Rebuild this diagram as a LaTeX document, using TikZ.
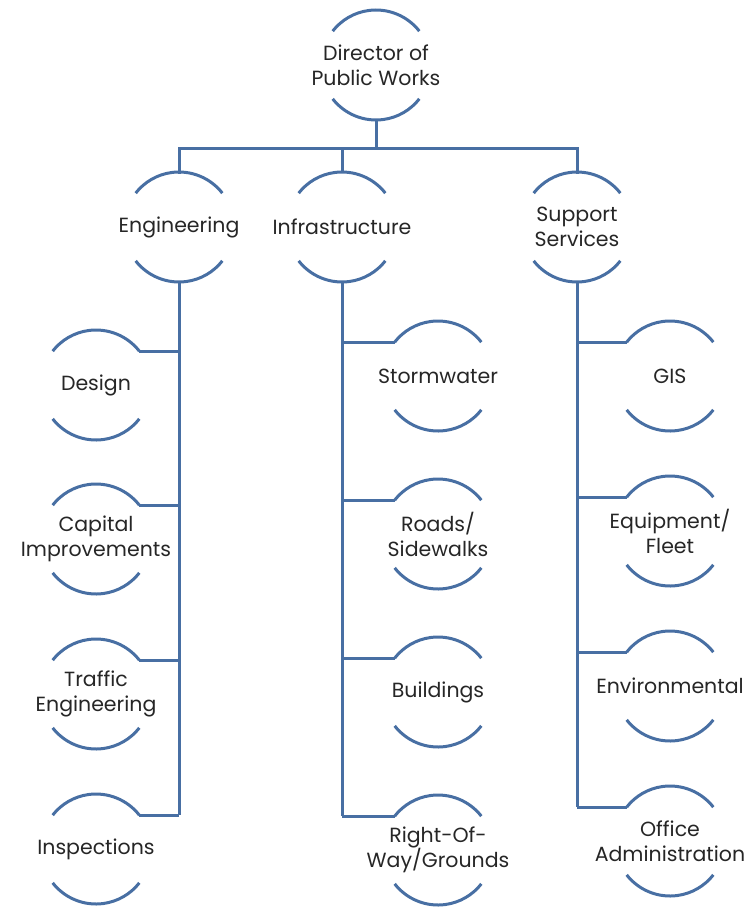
\documentclass[tikz,border=0pt]{standalone}
\usepackage{fontspec}
\setmainfont{Poppins}
\definecolor{lineblue}{RGB}{72,111,163}
\definecolor{txtgray}{RGB}{38,38,38}
\begin{document}
\begin{tikzpicture}[x=1pt,y=1pt,
  ring/.style={circle,minimum size=110pt,inner sep=0pt,outer sep=0pt,draw=none},
  txt/.style={align=center,text=txtgray,font=\fontsize{20.5}{25}\selectfont,inner sep=0pt},
  conn/.style={draw=lineblue,line width=3pt},
  arcs/.style={draw=lineblue,line width=3pt}
]
\useasboundingbox (0,0) rectangle (750,-907);

% nodes
\newcommand{\orgnode}[4]{%
  \node[ring] (#1) at (#2,#3) {};
  \node[txt] (#1-t) at (#1) {#4};
  \draw[arcs] (#1.38) arc[start angle=38,end angle=142,radius=55];
  \draw[arcs] (#1.218) arc[start angle=218,end angle=322,radius=55];
}
\orgnode{dir}{376}{-65}{Director of\\Public Works}
\orgnode{eng}{179}{-227}{Engineering}
\orgnode{inf}{342}{-227}{Infrastructure}
\orgnode{sup}{577}{-227}{Support\\Services}

\orgnode{des}{96}{-385}{Design}
\orgnode{cap}{96}{-539}{Capital\\Improvements}
\orgnode{tra}{96}{-694}{Traffic\\Engineering}
\orgnode{ins}{96}{-849}{Inspections}

\orgnode{sto}{438}{-376}{Stormwater}
\orgnode{roa}{438}{-534}{Roads/\\Sidewalks}
\orgnode{bui}{438}{-692}{Buildings}
\orgnode{row}{438}{-850}{Right-Of-\\Way/Grounds}

\orgnode{gis}{670}{-376}{GIS}
\orgnode{equ}{670}{-531}{Equipment/\\Fleet}
\orgnode{env}{670}{-686}{Environmental}
\orgnode{off}{670}{-841}{Office\\Administration}

% top level connectors
\coordinate (bus) at (376,-148);
\draw[conn] (dir.south) -- (bus);
\draw[conn,line cap=rect] (eng.north) |- (bus);
\draw[conn,line cap=rect] (sup.north) |- (bus);
\draw[conn] (inf.north) -- (inf.north |- bus);

% branch trunks
\draw[conn] (eng.south) -- (eng.south |- ins.38);
\draw[conn] (inf.south) -- (inf.south |- row.142);
\draw[conn] (sup.south) -- (sup.south |- off.142);

% branches
\foreach \c in {des,cap,tra,ins}{
  \draw[conn] (\c.38) -- (\c.38 -| eng.south);
}
\foreach \c in {sto,roa,bui,row}{
  \draw[conn] (\c.142) -- (\c.142 -| inf.south);
}
\foreach \c in {gis,equ,env,off}{
  \draw[conn] (\c.142) -- (\c.142 -| sup.south);
}
\end{tikzpicture}
\end{document}
